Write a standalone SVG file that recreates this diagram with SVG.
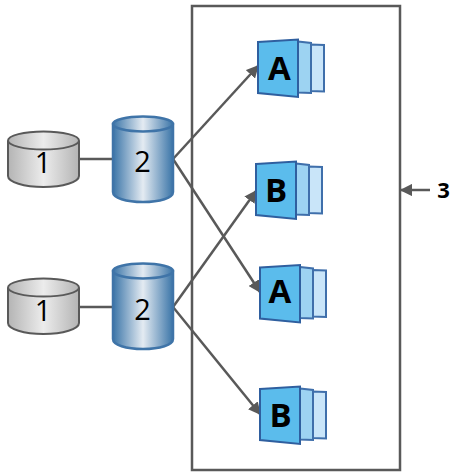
<svg xmlns="http://www.w3.org/2000/svg" width="450" height="476" viewBox="0 0 450 476">
<style>
.lbl{font-family:"Open Sans","Liberation Sans",Arial,sans-serif;font-size:29px;fill:#000;text-anchor:middle}
.big{font-family:"Open Sans","Liberation Sans",Arial,sans-serif;font-size:33px;font-weight:bold;fill:#000;text-anchor:middle}
.c{fill:none;stroke:#595959;stroke-width:2.5}
.p1{fill:#5bbcec;stroke:#2f5f9f;stroke-width:2}
.p2{fill:#9dd3f2;stroke:#3f6fab;stroke-width:2}
.p3{fill:#c9e5f9;stroke:#3f6fab;stroke-width:2}
</style>
<defs>
<linearGradient id="gy"><stop offset="0" stop-color="#b4b4b4"/><stop offset=".5" stop-color="#ececec"/><stop offset="1" stop-color="#b4b4b4"/></linearGradient>
<linearGradient id="bl"><stop offset="0" stop-color="#3b75a8"/><stop offset=".5" stop-color="#e4ebf2"/><stop offset="1" stop-color="#3b75a8"/></linearGradient>
<marker id="a" viewBox="0 0 10 10" refX="9" refY="5" markerWidth="5" markerHeight="5" orient="auto" markerUnits="strokeWidth"><path d="M0 0L10 5L0 10Z" fill="#595959"/></marker>
<g id="grey"><path d="M8 142V176C8 182 24 187 43.500 187S79 182 79 176V142Z" fill="url(#gy)" stroke="#595959" stroke-width="2"/><ellipse cx="43.500" cy="140.500" rx="35.500" ry="9" fill="url(#gy)" stroke="#595959" stroke-width="2"/></g>
<g id="blue"><path d="M113 124V192C113 198 126 202 143 202S173 198 173 192V124Z" fill="url(#bl)" stroke="#3f74a8" stroke-width="2.500"/><ellipse cx="143" cy="124" rx="30" ry="7.500" fill="url(#bl)" stroke="#3f74a8" stroke-width="2.500"/></g>
<g id="stack"><path class="p3" d="M310 44.500L324 45V91.500L310 91Z"/><path class="p2" d="M298 41.500L311 43V93L298 92.500Z"/><path class="p1" d="M258 42L298 39.500V97L258 93Z"/></g>
</defs>
<rect x="192" y="6" width="208" height="464" fill="none" stroke="#595959" stroke-width="2.500"/>
<g id="connectors">
<path class="c" d="M79 159H113"/>
<path class="c" d="M79 307H113"/>
<path class="c" marker-end="url(#a)" d="M173 159L258 66"/>
<path class="c" marker-end="url(#a)" d="M173 159L260 292"/>
<path class="c" marker-end="url(#a)" d="M173 307L256 191"/>
<path class="c" marker-end="url(#a)" d="M173 307L260 414"/>
<path class="c" marker-end="url(#a)" d="M430 190H401"/>
</g>
<g id="db1a"><use href="#grey"/><text class="lbl" x="43" y="173">1</text></g>
<g id="db2a"><use href="#blue"/><text class="lbl" x="142.500" y="172">2</text></g>
<g id="db1b"><use href="#grey" y="147"/><text class="lbl" x="43" y="321">1</text></g>
<g id="db2b"><use href="#blue" y="147"/><text class="lbl" x="142.500" y="319.500">2</text></g>
<g id="stackA1"><use href="#stack"/><text class="big" x="279.500" y="80">A</text></g>
<g id="stackB1"><use href="#stack" x="-2" y="122"/><text class="big" x="276" y="202">B</text></g>
<g id="stackA2"><use href="#stack" x="2" y="225.500"/><text class="big" x="280" y="303">A</text></g>
<g id="stackB2"><use href="#stack" x="2" y="347"/><text class="big" x="280.500" y="426.500">B</text></g>
<g id="label3"><text x="443.500" y="198" style="font-family:'Open Sans','Liberation Sans',Arial,sans-serif;font-size:22px;font-weight:bold;text-anchor:middle">3</text></g>
</svg>
